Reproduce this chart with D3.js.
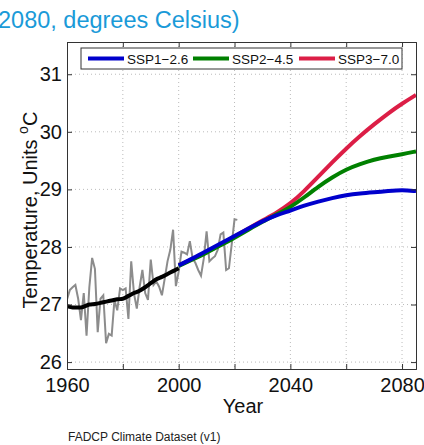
<!DOCTYPE html>
<html lang="en">
<head>
    <meta charset="UTF-8">
    <title>Temperature projections</title>
    <script src="https://cdn.jsdelivr.net/npm/d3@7"></script>
    <style>
        body { margin: 0; background: #fff; }
        svg { display: block; font-family: "Liberation Sans", Arial, sans-serif; }
        .axis path { stroke: #333; }
        .axis line { stroke: #333; }
        .axis text { font-size: 20px; fill: #111; }
        .grid line { stroke: #bbb; stroke-dasharray: 1,3; }
    </style>
</head>
<body>
    <div id="chart-space"></div>

    <script>
        // observed annual series, 1960-2021
        var obsYears = d3.range(1960, 2022);
        var obsTemp = [27.09, 27.25, 27.30, 27.34, 27.10, 26.73, 27.20, 26.46, 27.30, 27.81,
                       27.62, 26.52, 27.10, 27.16, 26.33, 26.49, 26.46, 27.08, 26.90, 27.28,
                       27.25, 27.28, 26.75, 27.75, 27.19, 26.93, 27.30, 27.60, 27.20, 27.08,
                       27.78, 27.34, 27.40, 27.31, 27.16, 27.45, 27.75, 27.95, 28.30, 27.32,
                       27.57, 27.92, 27.90, 27.87, 28.10, 27.80, 27.72, 27.60, 27.50, 27.80,
                       28.27, 27.75, 27.80, 27.84, 27.95, 28.22, 28.25, 27.60, 27.63, 28.05,
                       28.48, 28.47];

        // smoothed historical
        var histYears = [1960, 1962, 1965, 1968, 1970, 1973, 1975, 1978, 1980, 1982, 1984, 1986, 1988, 1990, 1992, 1994, 1996, 1998, 2000];
        var histTemp = [26.97, 26.95, 26.95, 27.00, 27.01, 27.04, 27.06, 27.09, 27.10, 27.15, 27.20, 27.24, 27.30, 27.37, 27.44, 27.48, 27.53, 27.58, 27.63];

        // scenario projections
        var projYears = d3.range(2000, 2086, 5);
        var ssp126 = [27.68, 27.80, 27.93, 28.06, 28.19, 28.32, 28.45, 28.55, 28.63, 28.72, 28.79, 28.85, 28.90, 28.93, 28.95, 28.97, 28.99, 28.97];
        var ssp245 = [27.67, 27.78, 27.90, 28.03, 28.16, 28.30, 28.44, 28.56, 28.69, 28.86, 29.05, 29.21, 29.35, 29.44, 29.52, 29.57, 29.61, 29.66];
        var ssp370 = [27.68, 27.79, 27.91, 28.04, 28.18, 28.32, 28.46, 28.59, 28.75, 28.97, 29.22, 29.47, 29.71, 29.93, 30.13, 30.32, 30.49, 30.64];

        var scenarios = ["SSP1\u22122.6", "SSP2\u22124.5", "SSP3\u22127.0"];
        var scenarioColors = ["#0000cc", "#008000", "#dc1e46"];

        var xTicks = d3.range(1960, 2081, 20);
        var xLabels = [1960, 2000, 2040, 2080];
        var yTicks = [26, 27, 28, 29, 30, 31];

        var width = 424;
        var height = 445;
        var plot = {left: 67, right: 416, top: 42, bottom: 369};

        var svg = d3.select("#chart-space")
            .append("svg")
            .attr("width", width)
            .attr("height", height);

        var xScale = d3.scaleLinear()
            .domain([1960, 2085])
            .range([plot.left, plot.right]);

        var yScale = d3.scaleLinear()
            .domain([25.88, 31.56])
            .range([plot.bottom, plot.top]);

        svg.append("defs").append("clipPath")
            .attr("id", "clip")
            .append("rect")
            .attr("x", plot.left)
            .attr("y", plot.top)
            .attr("width", plot.right - plot.left)
            .attr("height", plot.bottom - plot.top);

        // dotted grid
        var grid = svg.append("g").attr("class", "grid");
        grid.selectAll(".vx")
            .data(xTicks.slice(1))
            .join("line")
            .attr("class", "vx")
            .attr("x1", function(d) { return xScale(d); })
            .attr("x2", function(d) { return xScale(d); })
            .attr("y1", plot.top)
            .attr("y2", plot.bottom);
        grid.selectAll(".hy")
            .data(yTicks)
            .join("line")
            .attr("class", "hy")
            .attr("x1", plot.left)
            .attr("x2", plot.right)
            .attr("y1", function(d) { return yScale(d); })
            .attr("y2", function(d) { return yScale(d); });

        // lines
        var lines = svg.append("g").attr("clip-path", "url(#clip)");

        var obsLine = d3.line()
            .x(function(d, i) { return xScale(obsYears[i]); })
            .y(function(d) { return yScale(d); });

        lines.append("path")
            .datum(obsTemp)
            .attr("d", obsLine)
            .attr("fill", "none")
            .attr("stroke", "#8c8c8c")
            .attr("stroke-width", 2);

        var histLine = d3.line()
            .x(function(d, i) { return xScale(histYears[i]); })
            .y(function(d) { return yScale(d); })
            .curve(d3.curveMonotoneX);

        lines.append("path")
            .datum(histTemp)
            .attr("d", histLine)
            .attr("fill", "none")
            .attr("stroke", "#000")
            .attr("stroke-width", 4);

        var projLine = d3.line()
            .x(function(d, i) { return xScale(projYears[i]); })
            .y(function(d) { return yScale(d); })
            .curve(d3.curveBasis);

        var projData = [ssp126, ssp245, ssp370];
        // draw high scenario first so SSP1 sits on top
        [2, 1, 0].forEach(function(k) {
            lines.append("path")
                .datum(projData[k])
                .attr("d", projLine)
                .attr("fill", "none")
                .attr("stroke", scenarioColors[k])
                .attr("stroke-width", 4);
        });

        // axes, MATLAB style inward ticks on all sides
        svg.append("g")
            .attr("class", "axis")
            .attr("transform", "translate(0," + plot.bottom + ")")
            .call(d3.axisBottom(xScale).tickValues(xTicks).tickSize(-5).tickPadding(9)
                .tickFormat(function(d) { return xLabels.indexOf(d) >= 0 ? d : ""; }));

        svg.append("g")
            .attr("class", "axis")
            .attr("transform", "translate(0," + plot.top + ")")
            .call(d3.axisTop(xScale).tickValues(xTicks).tickSize(-5).tickFormat(""));

        svg.append("g")
            .attr("class", "axis")
            .attr("transform", "translate(" + plot.left + ",0)")
            .call(d3.axisLeft(yScale).tickValues(yTicks).tickSize(-5).tickPadding(5)
                .tickFormat(d3.format("d")));

        svg.append("g")
            .attr("class", "axis")
            .attr("transform", "translate(" + plot.right + ",0)")
            .call(d3.axisRight(yScale).tickValues(yTicks).tickSize(-5).tickFormat(""));

        // legend
        var legend = svg.append("g");
        legend.append("rect")
            .attr("x", 81)
            .attr("y", 48)
            .attr("width", 321)
            .attr("height", 21)
            .attr("fill", "#fff")
            .attr("stroke", "#333");

        var legendX = [88, 193, 299];
        scenarios.forEach(function(name, i) {
            legend.append("line")
                .attr("x1", legendX[i])
                .attr("x2", legendX[i] + 36)
                .attr("y1", 58.5)
                .attr("y2", 58.5)
                .attr("stroke", scenarioColors[i])
                .attr("stroke-width", 4);
            legend.append("text")
                .attr("x", legendX[i] + 39)
                .attr("y", 63.5)
                .attr("font-size", "13.5px")
                .attr("fill", "#111")
                .text(name);
        });

        // titles
        svg.append("text")
            .attr("x", -2)
            .attr("y", 28)
            .attr("font-size", "23.5px")
            .attr("fill", "#1a9ad8")
            .text("2080, degrees Celsius)");

        svg.append("text")
            .attr("x", 243)
            .attr("y", 413)
            .attr("text-anchor", "middle")
            .attr("font-size", "20px")
            .attr("fill", "#111")
            .text("Year");

        var ylab = svg.append("text")
            .attr("transform", "translate(37,210) rotate(-90)")
            .attr("text-anchor", "middle")
            .attr("font-size", "20px")
            .attr("fill", "#111");
        ylab.append("tspan").text("Temperature, Units ");
        ylab.append("tspan").attr("font-size", "14px").attr("dy", "-9").text("o");
        ylab.append("tspan").attr("dy", "9").text("C");

        svg.append("text")
            .attr("x", 68)
            .attr("y", 441)
            .attr("font-size", "12px")
            .attr("fill", "#222")
            .text("FADCP Climate Dataset (v1)");
    </script>
</body>
</html>
